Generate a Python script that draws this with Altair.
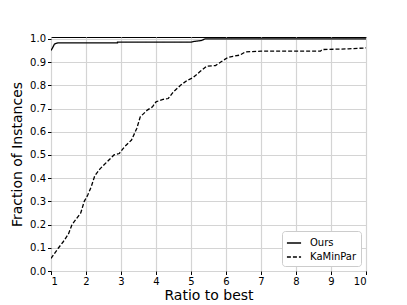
import altair as alt
import pandas as pd

ours_x = [1.0, 1.04, 1.1, 1.2, 2.9, 2.9, 5.0, 5.1, 5.3, 5.4, 10.0]
ours_y = [0.95, 0.96, 0.978, 0.983, 0.983, 0.986, 0.986, 0.989, 0.993, 1.0, 1.0]

kmp_x = [1.0, 1.2, 1.35, 1.5, 1.6, 1.7, 1.85, 1.95, 2.05, 2.15, 2.25, 2.4, 2.6, 2.8,
         2.95, 3.1, 3.3, 3.45, 3.55, 3.75, 3.9, 4.0, 4.2, 4.35, 4.5, 4.7, 4.9, 5.05,
         5.25, 5.45, 5.7, 5.85, 6.05, 6.2, 6.4, 6.55, 7.0, 8.7, 8.75, 9.5, 10.0]
kmp_y = [0.054, 0.097, 0.126, 0.16, 0.2, 0.22, 0.25, 0.3, 0.327, 0.363, 0.41, 0.44,
         0.47, 0.5, 0.506, 0.535, 0.564, 0.614, 0.664, 0.693, 0.707, 0.729, 0.739,
         0.743, 0.772, 0.8, 0.822, 0.832, 0.858, 0.882, 0.885, 0.9, 0.92, 0.925,
         0.93, 0.944, 0.947, 0.947, 0.954, 0.957, 0.961]

series = ["Ours", "KaMinPar"]

rows = []
for i, (x, y) in enumerate(zip(ours_x, ours_y)):
    rows.append({"series": "Ours", "x": x, "y": y, "order": i})
for i, (x, y) in enumerate(zip(kmp_x, kmp_y)):
    rows.append({"series": "KaMinPar", "x": x, "y": y, "order": i})
df = pd.DataFrame(rows)

font = "DejaVu Sans"

chart = alt.Chart(df).mark_line(strokeWidth=1.3, clip=True).encode(
    x=alt.X("x:Q", scale=alt.Scale(domain=[1, 10], nice=False, zero=False),
            axis=alt.Axis(title="Ratio to best", values=list(range(1, 11)),
                          format="d", tickCount=10)),
    y=alt.Y("y:Q", scale=alt.Scale(domain=[0, 1.008], nice=False),
            axis=alt.Axis(title="Fraction of Instances",
                          values=[round(i * 0.1, 1) for i in range(11)],
                          format=".1f")),
    color=alt.Color("series:N", scale=alt.Scale(domain=series, range=["black", "black"]),
                    legend=alt.Legend(title=None)),
    strokeDash=alt.StrokeDash("series:N",
                              scale=alt.Scale(domain=series, range=[[1, 0], [4, 2]]),
                              legend=alt.Legend(title=None)),
    order="order:Q",
).properties(
    width=315, height=234,
    autosize=alt.AutoSizeParams(type="none"),
    padding={"left": 43, "top": 29, "right": 33, "bottom": 32},
).configure_view(
    stroke="black", strokeWidth=1
).configure_axis(
    grid=True, gridColor="#d4d4d4", gridWidth=1.2,
    domain=False, tickColor="black", tickSize=3.5,
    labelFont=font, labelFontSize=10, labelColor="black",
    titleFont=font, titleFontSize=14, titleFontWeight="normal", titleColor="black",
    labelPadding=2,
).configure_axisX(
    titlePadding=2
).configure_axisY(
    titlePadding=5
).configure_legend(
    orient="bottom-right", offset=5,
    strokeColor="#cccccc", fillColor="white", padding=4, cornerRadius=3,
    labelFont=font, labelFontSize=10, labelColor="black", labelOffset=8,
    symbolType="stroke", symbolSize=200, symbolStrokeWidth=1.3,
    rowPadding=1,
)

chart.save("out.html", embed_options={"renderer": "svg", "actions": False})
